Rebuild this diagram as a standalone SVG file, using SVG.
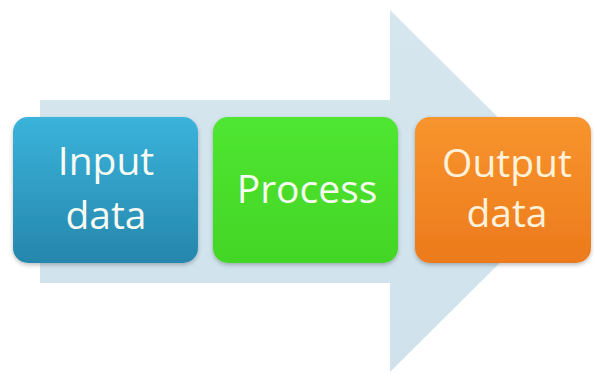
<svg xmlns="http://www.w3.org/2000/svg" width="594" height="374" viewBox="0 0 594 374">
  <defs>
    <linearGradient id="gBlue" x1="0" y1="0" x2="0" y2="1">
      <stop offset="0" stop-color="#3AB3DB"/>
      <stop offset="1" stop-color="#2686AC"/>
    </linearGradient>
    <linearGradient id="gGreen" x1="0" y1="0" x2="0" y2="1">
      <stop offset="0" stop-color="#4FE631"/>
      <stop offset="1" stop-color="#43D526"/>
    </linearGradient>
    <linearGradient id="gOrange" x1="0" y1="0" x2="0" y2="1">
      <stop offset="0" stop-color="#F8952E"/>
      <stop offset="1" stop-color="#EC7A1C"/>
    </linearGradient>
    <linearGradient id="gArrow" x1="0" y1="0" x2="0" y2="1">
      <stop offset="0" stop-color="#D6E6EE"/>
      <stop offset="1" stop-color="#CFE2EC"/>
    </linearGradient>
    <filter id="shadow" x="-10%" y="-10%" width="120%" height="130%">
      <feDropShadow dx="0" dy="2" stdDeviation="2" flood-color="#000" flood-opacity="0.25"/>
    </filter>
  </defs>
  <style>
    .box { filter: url(#shadow); }
    .label { font-family: "Open Sans", "Noto Sans", sans-serif; font-size: 39px; text-anchor: middle; fill: #F7FBF2; }
    .label-o { fill: #FFF2DA; }
  </style>
  <rect width="594" height="374" fill="#FFFFFF"/>
  <g id="connectors">
    <path d="M40,100 H390 V10 L572,191 L390,372 V283 H40 Z" fill="url(#gArrow)"/>
  </g>
  <g id="node-input">
    <rect class="box" x="13" y="117" width="185" height="146" rx="15" ry="15" fill="url(#gBlue)"/>
    <text class="label" x="106" y="175">Input</text>
    <text class="label" x="106" y="229">data</text>
  </g>
  <g id="node-process">
    <rect class="box" x="213" y="117" width="185" height="146" rx="15" ry="15" fill="url(#gGreen)"/>
    <text class="label" x="307" y="203">Process</text>
  </g>
  <g id="node-output">
    <rect class="box" x="415" y="117" width="176" height="146" rx="15" ry="15" fill="url(#gOrange)"/>
    <text class="label label-o" x="507" y="177">Output</text>
    <text class="label label-o" x="507" y="227">data</text>
  </g>
</svg>
